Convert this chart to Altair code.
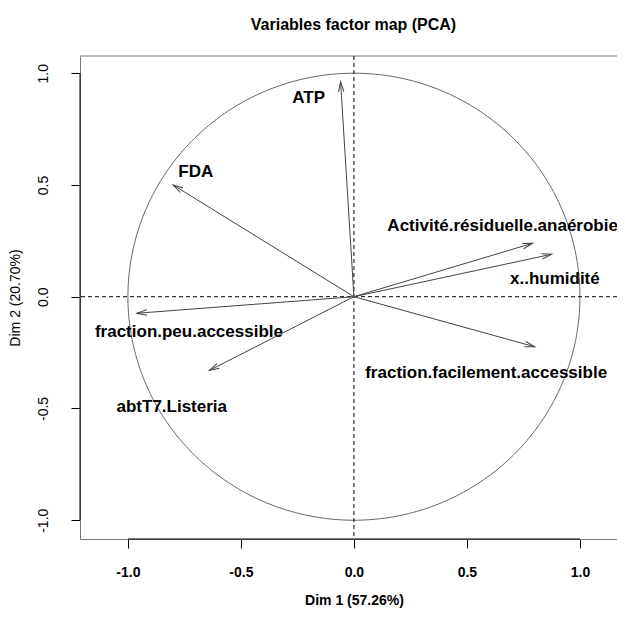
import math
import numpy as np
import pandas as pd
import altair as alt

# ---- data ----
variables = ["ATP", "FDA", "fraction.peu.accessible", "abtT7.Listeria",
             "Activité.résiduelle.anaérobie", "x..humidité",
             "fraction.facilement.accessible"]
dim1 = [-0.059, -0.80, -0.96, -0.64, 0.79, 0.875, 0.80]
dim2 = [0.962, 0.50, -0.074, -0.33, 0.239, 0.19, -0.224]
label_x = [-0.20, -0.70, -0.73, -0.806, 0.658, 0.889, 0.585]
label_y = [0.865, 0.534, -0.179, -0.515, 0.295, 0.056, -0.365]
x_ticks = [-1.0, -0.5, 0.0, 0.5, 1.0]
y_ticks = [-1.0, -0.5, 0.0, 0.5, 1.0]

FONT = "Liberation Sans"
W, H = 537, 483
x_dom = [-1.212, 1.164]
y_dom = [-1.084, 1.077]
sx = W / (x_dom[1] - x_dom[0])
sy = H / (y_dom[1] - y_dom[0])

df = pd.DataFrame({"var": variables, "x": dim1, "y": dim2,
                   "lx": label_x, "ly": label_y})
df["x0"] = 0.0
df["y0"] = 0.0
df["ang"] = [(math.degrees(math.atan2(a * sx, b * sy)) + 360) % 360
             for a, b in zip(dim1, dim2)]

# unit circle (correlation circle guide)
t = np.linspace(0, 2 * np.pi, 361)
circ = pd.DataFrame({"cx": np.cos(t), "cy": np.sin(t), "k": np.arange(361)})

origin = pd.DataFrame({"z": [0.0]})
axis_span = pd.DataFrame({"xlo": [min(x_ticks)], "xhi": [max(x_ticks)],
                          "ylo": [min(y_ticks)], "yhi": [max(y_ticks)]})

xs = alt.Scale(domain=x_dom, nice=False, zero=False)
ys = alt.Scale(domain=y_dom, nice=False, zero=False)

minus_fix = "replace(datum.label, '\u2212', '-')"
xaxis = alt.Axis(values=x_ticks, format=".1f", title="Dim 1 (57.26%)",
                 labelExpr=minus_fix)
yaxis = alt.Axis(values=y_ticks, format=".1f", title="Dim 2 (20.70%)",
                 labelExpr=minus_fix)


def X(f):
    return alt.X(f, scale=xs, axis=xaxis)


def Y(f):
    return alt.Y(f, scale=ys, axis=yaxis)


circle = alt.Chart(circ).mark_line(color="#666666", strokeWidth=1).encode(
    x=X("cx:Q"), y=Y("cy:Q"), order="k:Q")

top_border = alt.Chart(origin).mark_rule(color="#777777", strokeWidth=1).encode(
    x=alt.value(0), x2=alt.value(W), y=alt.value(0))

vdash = alt.Chart(origin).mark_rule(color="black", strokeDash=[4, 3], strokeWidth=1).encode(
    x=X("z:Q"))
hdash = alt.Chart(origin).mark_rule(color="black", strokeDash=[4, 3], strokeWidth=1).encode(
    y=Y("z:Q"))

arrows = alt.Chart(df).mark_rule(color="#444444", strokeWidth=1).encode(
    x=X("x0:Q"), y=Y("y0:Q"), x2="x:Q", y2="y:Q")

head_path = "M -0.536 2 L 0 0 L 0.536 2"
heads = alt.Chart(df).mark_point(shape=head_path, filled=False, size=100,
                                 color="#444444", strokeWidth=1, opacity=1).encode(
    x=X("x:Q"), y=Y("y:Q"), angle=alt.Angle("ang:Q", scale=None))

labels = alt.Chart(df).mark_text(font=FONT, fontSize=17, fontWeight="bold",
                                 align="center", baseline="alphabetic",
                                 color="black").encode(
    x=X("lx:Q"), y=Y("ly:Q"), text="var:N")

x_axis_line = alt.Chart(axis_span).mark_rule(color="black", strokeWidth=1).encode(
    x=X("xlo:Q"), x2="xhi:Q", y=alt.value(H))
y_axis_line = alt.Chart(axis_span).mark_rule(color="black", strokeWidth=1).encode(
    y=Y("ylo:Q"), y2="yhi:Q", x=alt.value(0))

chart = alt.layer(
    circle, top_border, vdash, hdash, arrows, heads, labels,
    x_axis_line, y_axis_line,
).properties(
    width=W, height=H,
    title=alt.TitleParams("Variables factor map (PCA)", font=FONT, fontSize=16,
                          fontWeight="bold", color="black", anchor="middle",
                          offset=23, dx=5, frame="group"),
    padding={"left": 72, "top": 48, "right": 0, "bottom": 69},
    autosize=alt.AutoSizeParams(type="none"),
    background="white",
).configure_view(
    stroke=None
).configure_axis(
    grid=False, domainColor="#777777", tickColor="black", tickSize=9,
    labelFont=FONT, labelFontSize=14, labelColor="black", labelFlush=False,
    titleFont=FONT, titleFontSize=14, titleColor="black",
).configure_axisX(
    labelFontWeight="bold", labelBaseline="middle", labelPadding=24,
    titleFontWeight="bold", titlePadding=14, titleX=274, titleAlign="center",
).configure_axisY(
    labelFontWeight="normal", labelAngle=270, labelAlign="center",
    labelBaseline="middle", labelPadding=28,
    titleFontWeight="normal", titleAngle=270, titleX=-65,
    titleAlign="center", titleBaseline="middle",
)

chart.save("out.html", embed_options={"renderer": "svg", "actions": False})
